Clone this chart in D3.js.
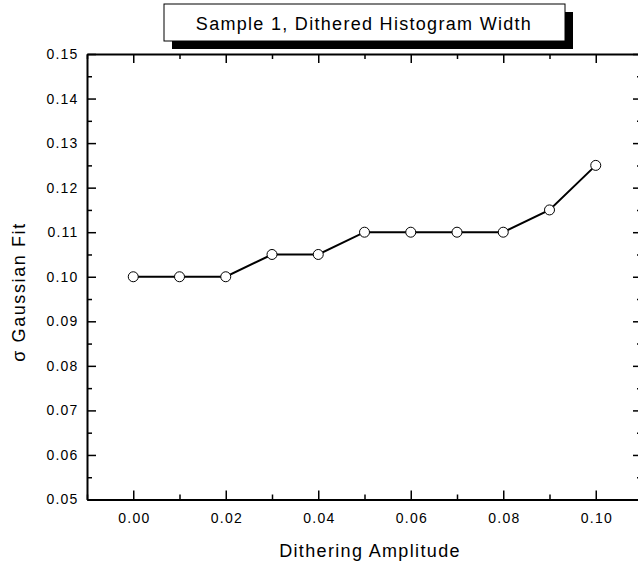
<!DOCTYPE html>
<html>
<head>
<meta charset="utf-8">
<script src="https://cdn.jsdelivr.net/npm/d3@7"></script>
<style>
  body { margin: 0; background: #fff; }
  text { font-family: "Liberation Sans", Arial, sans-serif; fill: #000; }
</style>
</head>
<body>
<div id="main"></div>
<script>
// data
const amplitude = [0.00, 0.01, 0.02, 0.03, 0.04, 0.05, 0.06, 0.07, 0.08, 0.09, 0.10];
const sigma = [0.100, 0.100, 0.100, 0.105, 0.105, 0.110, 0.110, 0.110, 0.110, 0.115, 0.125];
const xTicks = [0.00, 0.02, 0.04, 0.06, 0.08, 0.10];
const yTicks = [0.05, 0.06, 0.07, 0.08, 0.09, 0.10, 0.11, 0.12, 0.13, 0.14, 0.15];
const title = "Sample 1, Dithered Histogram Width";

const width = 638, height = 564;
const margin = { top: 54, right: -4, bottom: 64.5, left: 87 };

const svg = d3.select('#main').append('svg')
  .attr('width', width)
  .attr('height', height);

const x = d3.scaleLinear()
  .domain([-0.01, 0.11])
  .range([margin.left, width - margin.right]);

const y = d3.scaleLinear()
  .domain([0.05, 0.15])
  .range([height - margin.bottom, margin.top]);

const xMinor = d3.range(-0.01, 0.111, 0.01).map(d => +d.toFixed(3)).filter(d => !xTicks.some(t => Math.abs(t - d) < 1e-9));
const yMinor = d3.range(0.055, 0.15, 0.01).map(d => +d.toFixed(3));

// axes, ticks pointing inward like the original
function styleAxis(g) {
  g.select('.domain').attr('stroke-width', 2);
  g.selectAll('.tick line').attr('stroke-width', 1.5);
  g.selectAll('.tick text')
    .style('font-size', '14px')
    .style('letter-spacing', '1.2px');
}

const fmt = d3.format('.2f');

svg.append('g')
  .attr('transform', `translate(0,${y(0.05)})`)
  .call(d3.axisBottom(x).tickValues(xTicks).tickFormat(fmt).tickSizeInner(-9).tickSizeOuter(0).tickPadding(13.5))
  .call(styleAxis)
  .call(g => g.selectAll('.tick text').attr('x', 0.6));
svg.append('g')
  .attr('transform', `translate(0,${y(0.05)})`)
  .call(d3.axisBottom(x).tickValues(xMinor).tickFormat('').tickSizeInner(-5).tickSizeOuter(0))
  .call(g => g.select('.domain').remove())
  .call(styleAxis);

svg.append('g')
  .attr('transform', `translate(0,${y(0.15)})`)
  .call(d3.axisTop(x).tickValues(xTicks).tickFormat('').tickSizeInner(-9).tickSizeOuter(0))
  .call(styleAxis);
svg.append('g')
  .attr('transform', `translate(0,${y(0.15)})`)
  .call(d3.axisTop(x).tickValues(xMinor).tickFormat('').tickSizeInner(-5).tickSizeOuter(0))
  .call(g => g.select('.domain').remove())
  .call(styleAxis);

svg.append('g')
  .attr('transform', `translate(${x(-0.01)},0)`)
  .call(d3.axisLeft(y).tickValues(yTicks).tickFormat(fmt).tickSizeInner(-9).tickSizeOuter(0).tickPadding(8.5))
  .call(styleAxis);
svg.append('g')
  .attr('transform', `translate(${x(-0.01)},0)`)
  .call(d3.axisLeft(y).tickValues(yMinor).tickFormat('').tickSizeInner(-5).tickSizeOuter(0))
  .call(g => g.select('.domain').remove())
  .call(styleAxis);

svg.append('g')
  .attr('transform', `translate(${x(0.11)},0)`)
  .call(d3.axisRight(y).tickValues(yTicks).tickFormat('').tickSizeInner(-9).tickSizeOuter(0))
  .call(styleAxis);
svg.append('g')
  .attr('transform', `translate(${x(0.11)},0)`)
  .call(d3.axisRight(y).tickValues(yMinor).tickFormat('').tickSizeInner(-5).tickSizeOuter(0))
  .call(g => g.select('.domain').remove())
  .call(styleAxis);

// line and markers
const pts = amplitude.map((a, i) => ({ a: a, s: sigma[i] }));

svg.append('path')
  .datum(pts)
  .attr('fill', 'none')
  .attr('stroke', '#000')
  .attr('stroke-width', 2)
  .attr('d', d3.line().x(d => x(d.a)).y(d => y(d.s)));

svg.append('g')
  .selectAll('circle')
  .data(pts)
  .join('circle')
    .attr('cx', d => x(d.a))
    .attr('cy', d => y(d.s))
    .attr('r', 5)
    .attr('fill', '#fff')
    .attr('stroke', '#000')
    .attr('stroke-width', 1);

// axis titles
svg.append('text')
  .attr('x', 370)
  .attr('y', 557)
  .attr('text-anchor', 'middle')
  .attr('font-size', '18px')
  .attr('letter-spacing', '1.35px')
  .text('Dithering Amplitude');

svg.append('text')
  .attr('transform', `translate(25,292) rotate(-90)`)
  .attr('text-anchor', 'middle')
  .attr('font-size', '18px')
  .attr('letter-spacing', '1.6px')
  .text('σ Gaussian Fit');

// title box with drop shadow
const box = { x: 164, y: 4, w: 401, h: 37, off: 8 };
svg.append('rect')
  .attr('x', box.x + box.off).attr('y', box.y + box.off)
  .attr('width', box.w).attr('height', box.h)
  .attr('fill', '#000');
svg.append('rect')
  .attr('x', box.x).attr('y', box.y)
  .attr('width', box.w).attr('height', box.h)
  .attr('fill', '#fff')
  .attr('stroke', '#000')
  .attr('stroke-width', 1);
svg.append('text')
  .attr('x', 364)
  .attr('y', box.y + 26)
  .attr('text-anchor', 'middle')
  .attr('font-size', '18px')
  .attr('letter-spacing', '1.3px')
  .text(title);
</script>
</body>
</html>
